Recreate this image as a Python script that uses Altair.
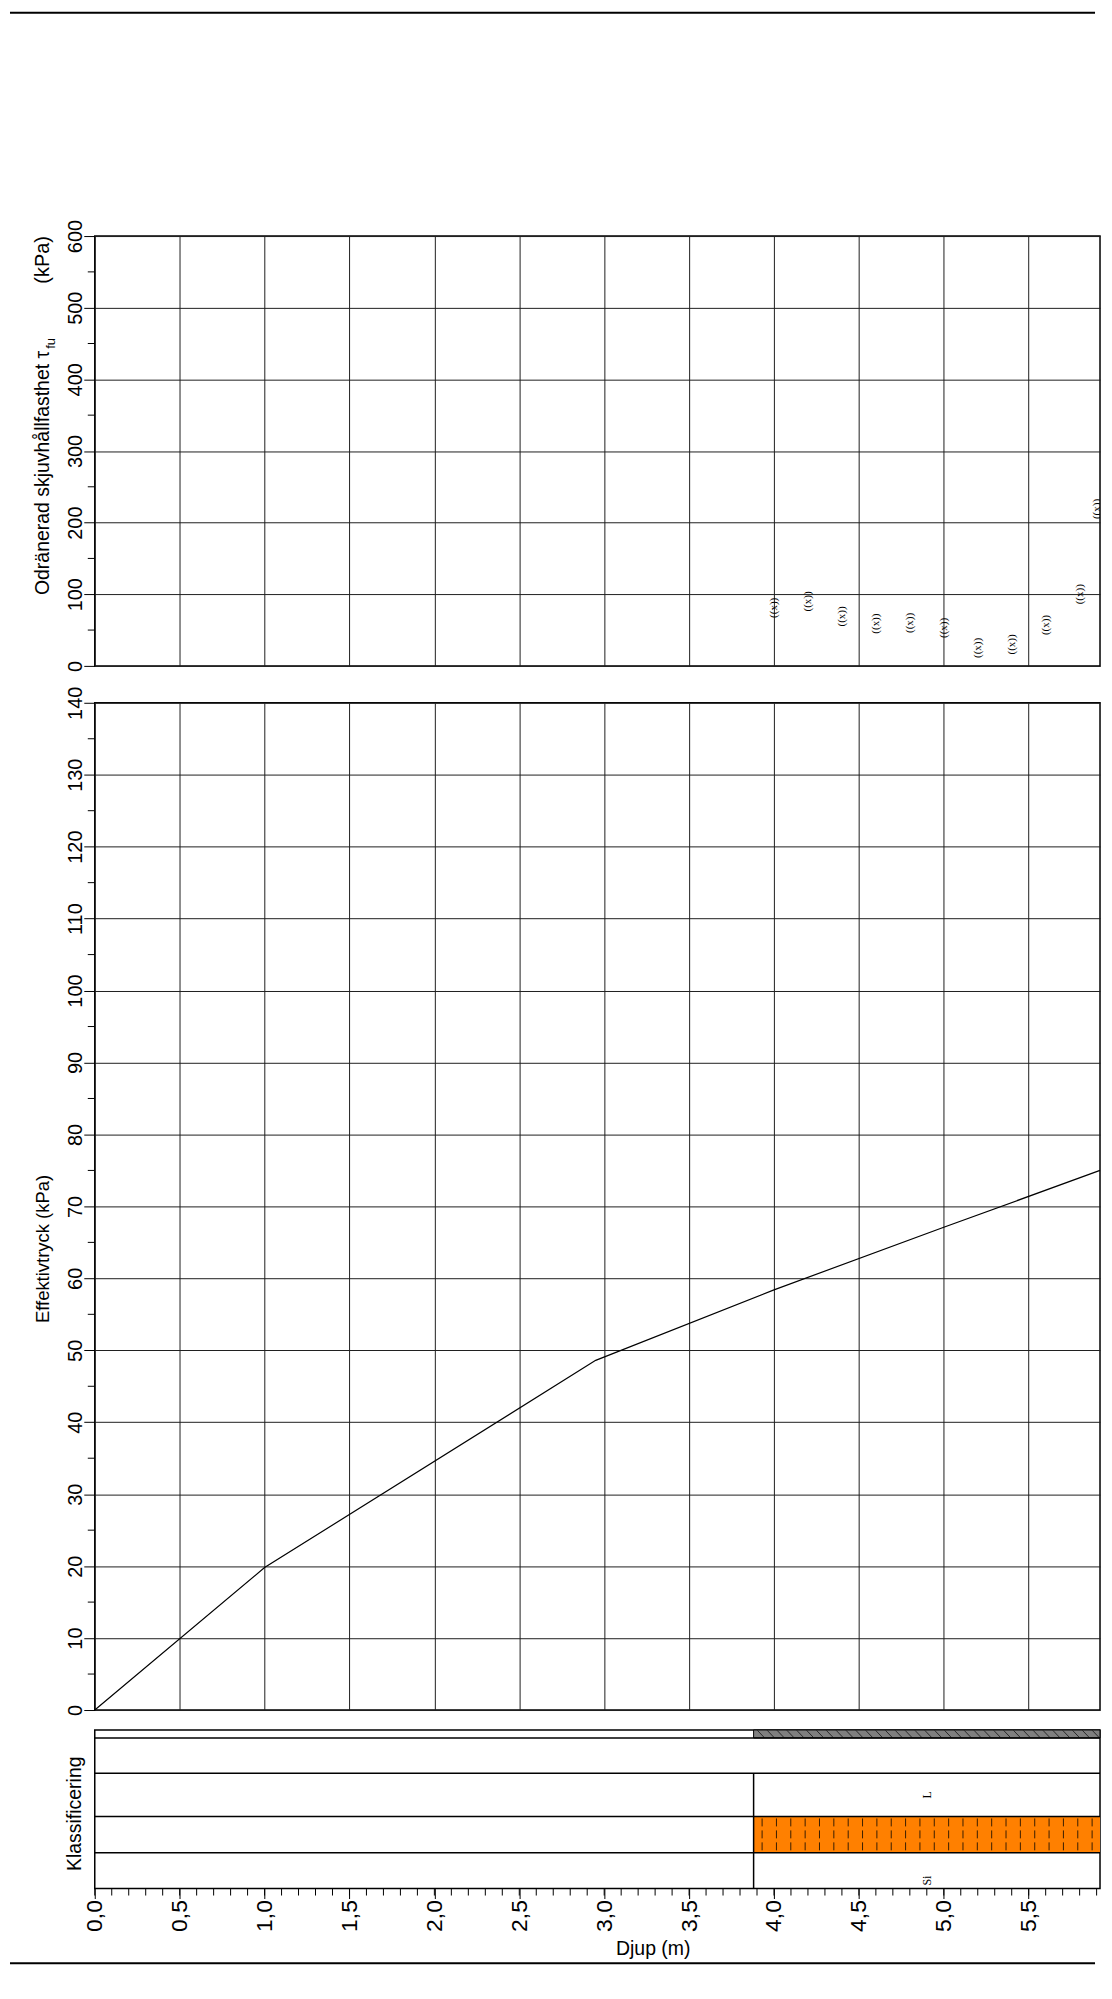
import altair as alt
import pandas as pd
import numpy as np

SANS = "Liberation Sans"
SERIF = "Liberation Serif"

# ---------------- data ----------------
# Odränerad skjuvhållfasthet (kPa) vs depth (m)
tau_depth = [4.0, 4.2, 4.4, 4.6, 4.8, 5.0, 5.2, 5.4, 5.6, 5.8, 5.9]
tau_value = [81, 90, 69, 59, 60, 53, 25, 30, 57, 100, 219]
tau_marker = "((x))"

# Effektivtryck (kPa) vs depth (m)
sig_depth = [0.0, 1.0, 2.95, 4.0, 5.0, 5.92]
sig_value = [0.0, 19.8, 48.6, 58.4, 67.1, 75.0]

depth_max = 5.92
x_major = [0.0, 0.5, 1.0, 1.5, 2.0, 2.5, 3.0, 3.5, 4.0, 4.5, 5.0, 5.5]
x_minor = [round(0.1 * i, 1) for i in range(60)]
tau_major = [0, 100, 200, 300, 400, 500, 600]
tau_minor = [50, 150, 250, 350, 450, 550]
sig_major = [0, 10, 20, 30, 40, 50, 60, 70, 80, 90, 100, 110, 120, 130, 140]
sig_minor = [5, 15, 25, 35, 45, 55, 65, 75, 85, 95, 105, 115, 125, 135]

# Klassificering strip
klass_start = 3.88                     # depth where classified soil starts
klass_rows = [0, 8, 43.3, 86.7, 123, 159]  # row boundaries (panel row units, top=0)
klass_labels = ["L", "Si"]
klass_label_row_y = [65, 151]
klass_label_depth = [4.9, 4.9]

W, H1, H2, H3 = 1008, 431, 1010, 159
SPACING = 9.5

xs = alt.Scale(domain=[0, depth_max], nice=False, zero=False)
x_grid_axis = alt.Axis(values=x_major, grid=True, labels=False, ticks=False,
                       domain=False, title=None)

one = pd.DataFrame({"k": [0]})


def label(text, x, y, size, angle=270, align="left", baseline="alphabetic", font=SANS):
    return alt.Chart(one).mark_text(
        text=text, angle=angle, align=align, baseline=baseline,
        font=font, fontSize=size, color="black"
    ).encode(x=alt.value(x), y=alt.value(y))


def page_rule(y):
    return alt.Chart(one).mark_rule(color="black", strokeWidth=2).encode(
        x=alt.value(-85), x2=alt.value(1003), y=alt.value(y))


def spacer(h):
    return alt.Chart(one).mark_point(opacity=0).encode(
        x=alt.value(0), y=alt.value(0)
    ).properties(width=W, height=h, view=alt.ViewBackground(stroke="transparent"))


def y_axis(values):
    return alt.Axis(values=values, grid=True, tickSize=11, labelAngle=270,
                    labelAlign="center", labelBaseline="alphabetic",
                    labelPadding=2, labelFontSize=20, title=None, domain=False)


# ---------------- panel 1 ----------------
tau_df = pd.DataFrame({"d": tau_depth, "v": tau_value})
ys1 = alt.Scale(domain=[0, 600], nice=False)
ya1 = y_axis(tau_major)

p1_pts = alt.Chart(tau_df).mark_text(
    text=tau_marker, angle=270, font=SERIF, fontSize=11, clip=True,
    align="center", baseline="middle", color="black"
).encode(x=alt.X("d:Q", scale=xs, axis=x_grid_axis),
         y=alt.Y("v:Q", scale=ys1, axis=ya1))

p1_minor = alt.Chart(pd.DataFrame({"v": tau_minor})).mark_rule(
    color="black", strokeWidth=1
).encode(y=alt.Y("v:Q", scale=ys1, axis=ya1), x=alt.value(-7), x2=alt.value(0))

p1 = alt.layer(
    page_rule(-224),
    p1_pts,
    p1_minor,
    label("Odränerad skjuvhållfasthet τ", -46, 360, 19.5),
    label("fu", -40, 113, 13),
    label("(kPa)", -46, 0, 20, align="right"),
).properties(width=W, height=H1)

# ---------------- panel 2 ----------------
sig_df = pd.DataFrame({"d": sig_depth, "v": sig_value})
ys2 = alt.Scale(domain=[0, 140], nice=False)
ya2 = y_axis(sig_major)

p2_line = alt.Chart(sig_df).mark_line(color="black", strokeWidth=1.2).encode(
    x=alt.X("d:Q", scale=xs, axis=x_grid_axis),
    y=alt.Y("v:Q", scale=ys2, axis=ya2))

p2_minor = alt.Chart(pd.DataFrame({"v": sig_minor})).mark_rule(
    color="black", strokeWidth=1
).encode(y=alt.Y("v:Q", scale=ys2, axis=ya2), x=alt.value(-7), x2=alt.value(0))

p2 = alt.layer(
    p2_line,
    p2_minor,
    label("Effektivtryck  (kPa)", -46, 622, 18.5),
).properties(width=W, height=H2)

# ---------------- panel 3 ----------------
ys3 = alt.Scale(domain=[klass_rows[0], klass_rows[-1]], reverse=True, nice=False, zero=False)
xa3 = alt.Axis(values=x_major, grid=False, tickSize=10, labelAngle=270,
               labelPadding=1, labelFontSize=23, domain=False, title=None,
               labelExpr="replace(format(datum.value, '.1f'), '.', ',')")


def X(field="x"):
    return alt.X(f"{field}:Q", scale=xs, axis=xa3)


def Y(field="y"):
    return alt.Y(f"{field}:Q", scale=ys3, axis=None)


strip_df = pd.DataFrame({"x": [klass_start], "x2": [depth_max],
                         "y": [klass_rows[0]], "y2": [klass_rows[1]]})
strip = alt.Chart(strip_df).mark_rect(fill="#7f7f7f", stroke="black", strokeWidth=1).encode(
    x=X(), x2="x2:Q", y=Y(), y2="y2:Q")

hatch_x = np.arange(klass_start + 0.02, depth_max, 0.058)
hatch_df = pd.DataFrame({"x": hatch_x, "x2": hatch_x + 0.045,
                         "y": klass_rows[0], "y2": klass_rows[1]})
hatch = alt.Chart(hatch_df).mark_rule(color="#2a2a2a", strokeWidth=1, clip=True).encode(
    x=X(), x2="x2:Q", y=Y(), y2="y2:Q")

orange_df = pd.DataFrame({"x": [klass_start], "x2": [depth_max],
                          "y": [klass_rows[3]], "y2": [klass_rows[4]]})
orange = alt.Chart(orange_df).mark_rect(fill="#FF8000").encode(
    x=X(), x2="x2:Q", y=Y(), y2="y2:Q")

dash_x = np.arange(klass_start + 0.05, depth_max, 0.0845)
dash_df = pd.DataFrame({"x": dash_x, "y": klass_rows[3], "y2": klass_rows[4]})
dashes = alt.Chart(dash_df).mark_rule(
    color="#3a1e00", strokeWidth=1, strokeDash=[8, 4], strokeDashOffset=-2, clip=True
).encode(x=X(), y=Y(), y2="y2:Q")

hrule_df = pd.DataFrame({"x": 0.0, "x2": depth_max, "y": klass_rows[1:-1]})
hrules = alt.Chart(hrule_df).mark_rule(color="black", strokeWidth=1.5).encode(
    x=X(), x2="x2:Q", y=Y())

vrule_df = pd.DataFrame({"x": [klass_start], "y": [klass_rows[2]], "y2": [klass_rows[-1]]})
vrule = alt.Chart(vrule_df).mark_rule(color="black", strokeWidth=1.5).encode(
    x=X(), y=Y(), y2="y2:Q")

minor_x = alt.Chart(pd.DataFrame({"x": x_minor})).mark_rule(color="black", strokeWidth=1).encode(
    x=X(), y=alt.value(H3), y2=alt.value(H3 + 7))

klass_text_df = pd.DataFrame({"x": klass_label_depth, "y": klass_label_row_y, "t": klass_labels})
klass_text = alt.Chart(klass_text_df).mark_text(
    angle=270, font=SERIF, fontSize=12, align="center", baseline="middle", color="black"
).encode(x=X(), y=Y(), text="t:N")

p3 = alt.layer(
    strip, hatch, orange, dashes, hrules, vrule, minor_x, klass_text,
    label("Klassificering", -14, 84, 19.5, align="center"),
    label("Djup  (m)", 560, 226, 19.5, angle=0, align="center"),
    page_rule(234),
).properties(width=W, height=H3)

# gaps: p1->p2 = 2*SPACING + 17.7 = 36.7 ; p2->p3 = 2*SPACING + 1 = 20
chart = alt.vconcat(
    p1, spacer(17.7), p2, spacer(1), p3, spacing=SPACING, bounds="flush"
).properties(
    padding=0
).configure_view(
    stroke="black", strokeWidth=1.5
).configure_axis(
    labelFont=SANS, labelColor="black", tickColor="black", tickWidth=1,
    gridColor="#1f1f1f", gridWidth=1, gridOpacity=1
)

chart.save("out.html", embed_options={"renderer": "svg", "actions": False})
